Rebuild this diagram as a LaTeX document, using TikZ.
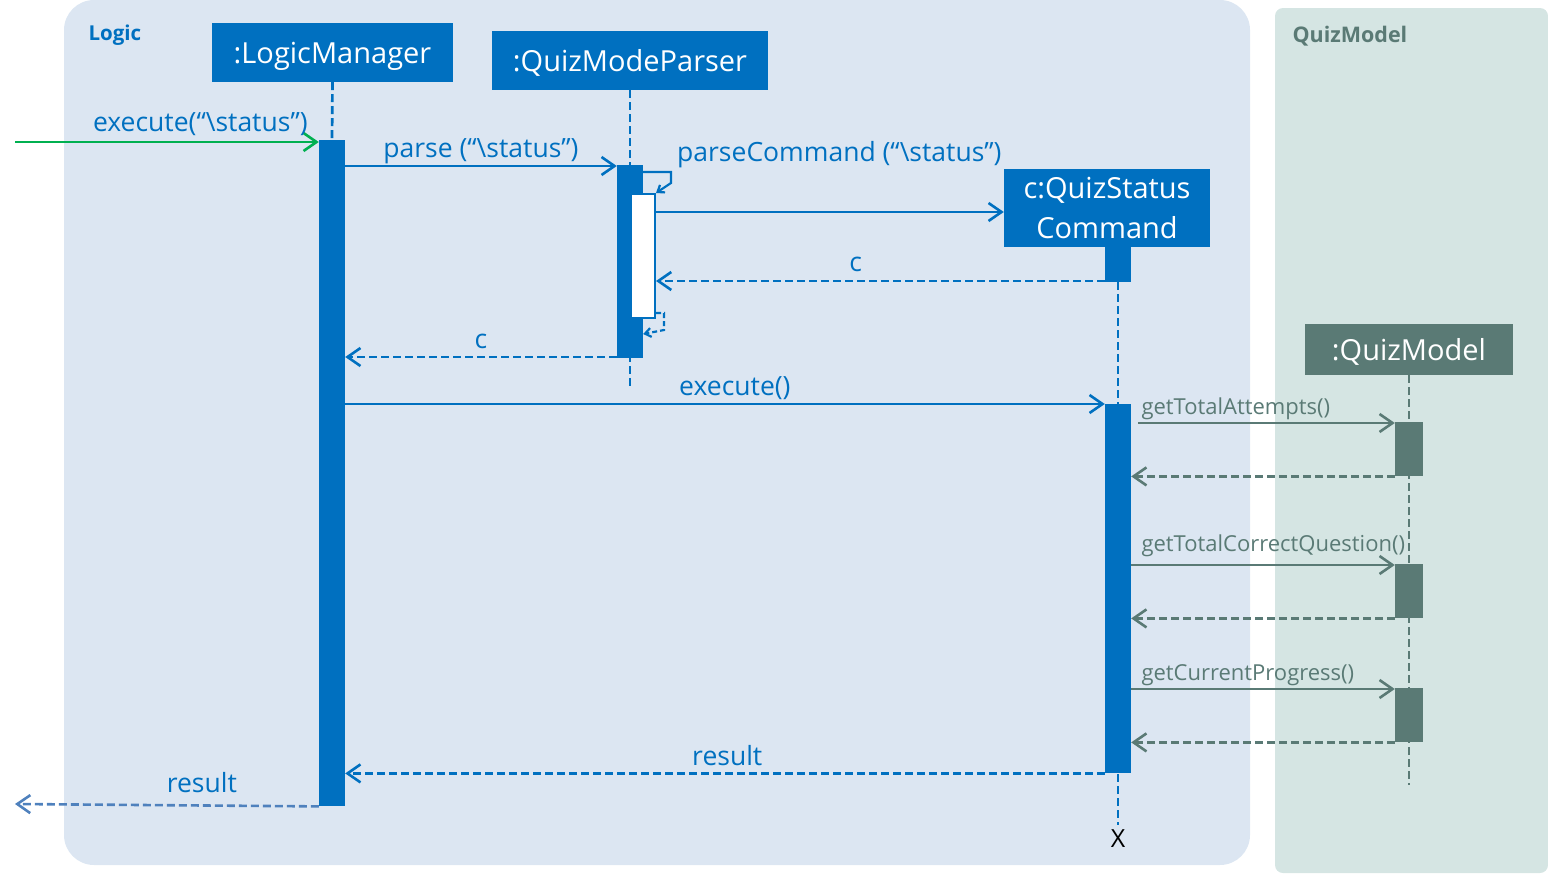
\documentclass[tikz,border=0pt]{standalone}
\usepackage{fontspec}
\setmainfont{Open Sans}
\usetikzlibrary{arrows.meta,positioning}
\definecolor{logicblue}{HTML}{0070C0}
\definecolor{logicfill}{HTML}{DCE6F2}
\definecolor{modelfill}{HTML}{D5E5E3}
\definecolor{modelgray}{HTML}{5A7A75}
\definecolor{foundgreen}{HTML}{00B050}
\definecolor{resblue}{HTML}{4F81BD}

\begin{document}
\begin{tikzpicture}[x=1pt,y=-1pt,
  head/.style={fill=logicblue,text=white,inner sep=0pt,text depth=0pt,font=\fontsize{29}{34}\selectfont},
  qhead/.style={head,fill=modelgray},
  bar/.style={fill=logicblue,inner sep=0pt,minimum width=26pt,anchor=north},
  qbar/.style={fill=modelgray,inner sep=0pt,minimum width=28pt,anchor=north},
  life/.style={logicblue,line width=2.7pt,dash pattern=on 8pt off 4pt},
  qlife/.style={life,modelgray},
  msg/.style={logicblue,line width=2.6pt,-{Straight Barb[length=13pt,width=18pt]}},
  ret/.style={msg,dash pattern=on 8pt off 4pt},
  small/.style={logicblue,line width=2.2pt,-{Straight Barb[length=6pt,width=9pt]}},
  lbl/.style={text=logicblue,font=\fontsize{26.5}{30}\selectfont,inner sep=1pt},
  qlbl/.style={text=modelgray,font=\fontsize{22}{26}\selectfont,inner sep=2pt,anchor=south west}]
\useasboundingbox (0,0) rectangle (1548,881);

% frames
\fill[logicfill,rounded corners=30pt] (64,0) rectangle (1250,865);
\fill[modelfill,rounded corners=8pt] (1275,8) rectangle (1548,873);
\node[text=logicblue,font=\bfseries\fontsize{20.5}{24}\selectfont,anchor=west] (logicTitle) at (85,35) {Logic};
\node[text=modelgray,font=\bfseries\fontsize{21.5}{24}\selectfont,anchor=west] (modelTitle) at (1289,36) {QuizModel};

% participants
\node[head,minimum width=241pt,minimum height=59pt] (lm) at (332.5,52.5) {:LogicManager};
\node[head,minimum width=276pt,minimum height=59pt] (mp) at (630,60.5) {:QuizModeParser};
\node[head,text depth=,minimum width=206pt,minimum height=78pt,align=center,font=\fontsize{29}{40}\selectfont] (qsc) at (1107,208) {c:QuizStatus\\Command};
\node[qhead,minimum width=208pt,minimum height=51pt] (qm) at (1409,349.5) {:QuizModel};

% lifelines
\coordinate (mpEnd) at (630,390);
\coordinate (qscEnd) at (1118,825);
\coordinate (qmEnd) at (1409,785);
\draw[life] (lm.south) -- (332,140);
\draw[life] (mp.south) -- (mpEnd);
\draw[life] (1118,282) -- (qscEnd);
\draw[qlife] (qm.south) -- (qmEnd);
\node[font=\fontsize{25}{28}\selectfont,below=1pt of qscEnd] (destroy) {X};

% activations
\node[bar,minimum height=666pt] (lmAct) at (332,140) {};
\node[bar,minimum height=193pt] (mpAct) at (630,165) {};
\node[bar,fill=white,draw=logicblue,line width=2pt,minimum width=24pt,minimum height=124pt] (mpSub) at (643,193) {};
\node[bar,minimum height=36pt] (qscTop) at (1118,246) {};
\node[bar,minimum height=369pt] (qscAct) at (1118,404) {};
\node[qbar,minimum height=54pt] (qmA1) at (1409,422) {};
\node[qbar,minimum height=54pt] (qmA2) at (1409,564) {};
\node[qbar,minimum height=54pt] (qmA3) at (1409,688) {};

% messages
\coordinate (inStart) at (15,142);
\coordinate (outEnd) at (15,804);
\draw[msg,foundgreen] (inStart) -- (lmAct.west |- 0,142)
  node[lbl,above,pos=0.61,yshift=4pt] {execute(“\textbackslash status”)};
\draw[msg] (lmAct.east |- 0,166) -- (mpAct.west |- 0,166)
  node[lbl,above,midway] {parse (“\textbackslash status”)};
\draw[small] (mpAct.east |- 0,172) -- (671,172) -- (671,183) -- (mpSub.north east);
\node[lbl,anchor=west] (pcLbl) at (676,155) {parseCommand (“\textbackslash status”)};
\draw[msg] (mpSub.east |- 0,212) -- (qsc.west |- 0,212);
\draw[ret] (qscTop.west |- 0,281) -- (mpSub.east |- 0,281)
  node[lbl,above,pos=0.555,yshift=7pt] {c};
\draw[small,dash pattern=on 5pt off 3pt] (mpSub.east |- 0,313) -- (664,313) -- (664,330) -- (mpAct.east |- 0,334);
\draw[ret] (mpAct.west |- 0,357) -- (lmAct.east |- 0,357)
  node[lbl,above,midway,yshift=6pt] {c};
\draw[msg] (lmAct.east |- 0,404) -- (qscAct.west |- 0,404)
  node[lbl,above,pos=0.513,yshift=2pt] {execute()};

\draw[msg,modelgray] ([xshift=7pt]qscAct.east |- 0,423) -- (qmA1.west |- 0,423)
  node[qlbl,pos=0] {getTotalAttempts()};
\draw[ret,modelgray] (qmA1.south west) -- (qscAct.east |- qmA1.south);
\draw[msg,modelgray] (qscAct.east |- 0,565) -- (qmA2.west |- 0,565)
  node[qlbl,pos=0,xshift=7pt,yshift=5pt] {getTotalCorrectQuestion()};
\draw[ret,modelgray] (qmA2.south west) -- (qscAct.east |- qmA2.south);
\draw[msg,modelgray] (qscAct.east |- 0,689) -- (qmA3.west |- 0,689)
  node[qlbl,pos=0,xshift=7pt] {getCurrentProgress()};
\draw[ret,modelgray] (qmA3.south west) -- (qscAct.east |- qmA3.south);

\draw[ret] (qscAct.south west) -- (lmAct.east |- qscAct.south)
  node[lbl,above,pos=0.497,yshift=5pt] {result};
\draw[ret,resblue] (lmAct.south west) -- (outEnd)
  node[lbl,above,pos=0.385,yshift=10pt] {result};
\end{tikzpicture}
\end{document}
